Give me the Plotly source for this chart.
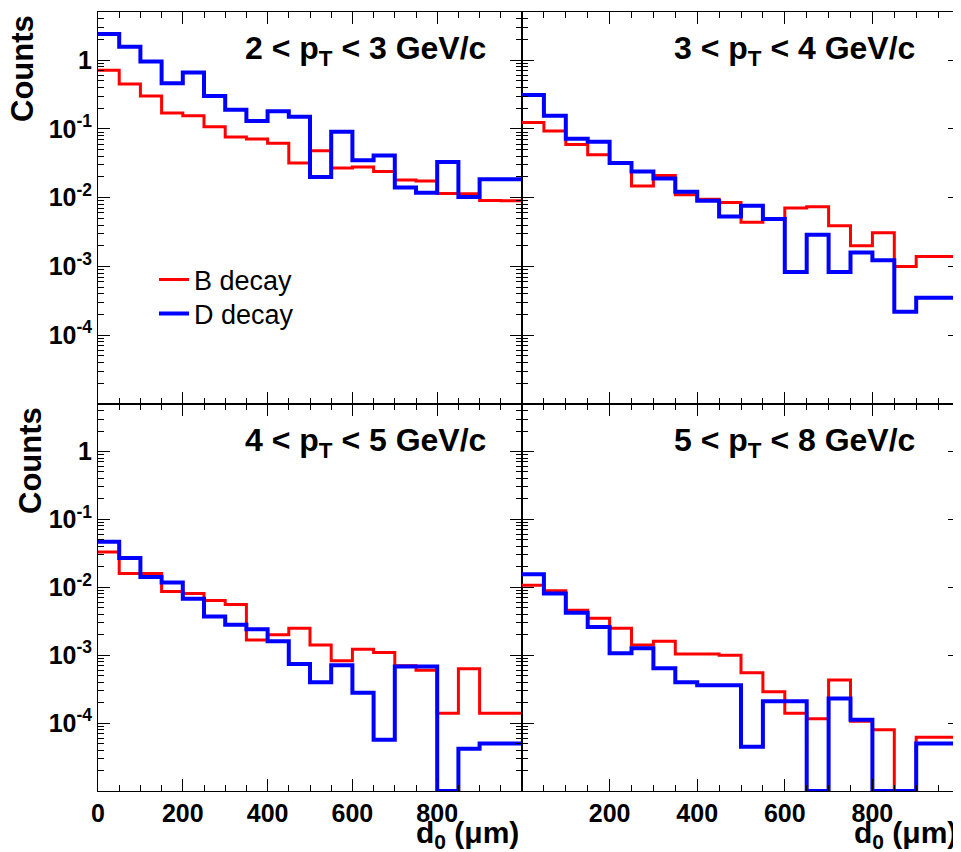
import plotly.graph_objects as go
import math

# bin edges (d0 in micrometres), 20 bins of 50 um
bin_edges = [0, 50, 100, 150, 200, 250, 300, 350, 400, 450, 500,
             550, 600, 650, 700, 750, 800, 850, 900, 950, 1000]

panel_labels = ["2 < p<sub>T</sub> < 3 GeV/c", "3 < p<sub>T</sub> < 4 GeV/c",
                "4 < p<sub>T</sub> < 5 GeV/c", "5 < p<sub>T</sub> < 8 GeV/c"]

# B decay (red) per panel
b_pt23 = [0.71, 0.45, 0.30, 0.17, 0.155, 0.107, 0.076, 0.071, 0.062, 0.032,
          0.048, 0.027, 0.028, 0.024, 0.018, 0.0175, 0.0115, 0.0114, 0.0091, 0.0090]
b_pt34 = [0.124, 0.093, 0.059, 0.042, 0.032, 0.0148, 0.021, 0.011, 0.0095, 0.0085,
          0.0044, 0.0048, 0.0071, 0.0074, 0.0039, 0.0020, 0.0031, 0.0010, 0.0014, 0.0014]
b_pt45 = [0.033, 0.016, 0.0159, 0.0087, 0.0081, 0.0064, 0.0056, 0.00167, 0.0020, 0.0025,
          0.00141, 0.00083, 0.00122, 0.0011, 0.00070, 0.00060, 0.00014, 0.00063, 0.00014, 0.00014]
b_pt58 = [0.0107, 0.0089, 0.0046, 0.0035, 0.0025, 0.00141, 0.0016, 0.00104, 0.00104, 0.0010,
          0.00055, 0.00029, 0.00014, 0.000116, 0.00043, 0.000106, 0.00008, 0.0, 0.000062, 0.000062]

# D decay (blue) per panel
d_pt23 = [2.4, 1.56, 0.95, 0.46, 0.66, 0.30, 0.19, 0.13, 0.18, 0.15,
          0.020, 0.091, 0.035, 0.041, 0.014, 0.0118, 0.033, 0.0102, 0.0185, 0.0185]
d_pt34 = [0.31, 0.155, 0.072, 0.065, 0.032, 0.024, 0.019, 0.0122, 0.0090, 0.0053,
          0.0076, 0.0049, 0.00083, 0.0029, 0.00083, 0.0016, 0.00123, 0.00022, 0.00035, 0.00035]
d_pt45 = [0.047, 0.027, 0.0142, 0.0118, 0.0068, 0.0037, 0.0028, 0.0024, 0.0016, 0.00074,
          0.00040, 0.00071, 0.00028, 0.000057, 0.00068, 0.00068, 0.0, 0.000042, 0.000050, 0.000050]
d_pt58 = [0.0155, 0.0081, 0.0042, 0.0026, 0.00107, 0.00126, 0.00064, 0.00040, 0.00036, 0.00036,
          0.000045, 0.00021, 0.00021, 0.0, 0.00023, 0.000112, 0.0, 0.0, 0.00005, 0.00005]

b_series = [b_pt23, b_pt34, b_pt45, b_pt58]
d_series = [d_pt23, d_pt34, d_pt45, d_pt58]

y_min, y_max = 1e-5, 5.0
y_major = [1e-4, 1e-3, 1e-2, 1e-1, 1]
y_major_text = ["10<sup>-4</sup>", "10<sup>-3</sup>", "10<sup>-2</sup>", "10<sup>-1</sup>", "1"]
x_major_left = [0, 200, 400, 600, 800]
x_major_right = [200, 400, 600, 800]

WIN_W, WIN_H = 961, 852
OFF = 8  # default page body margin
W, H = WIN_W - OFF, WIN_H - OFF
FONT = "Liberation Sans, Arial, sans-serif"

def fx(X):
    return (X - OFF) / W

def fy(Y):
    return 1 - (Y - OFF) / H

# panel geometry in window pixels (left, right, top, bottom)
px = [(98, 522), (522, 960)]
py = [(12, 404), (404, 791)]

fig = go.Figure()

def step(vals):
    return [max(v, y_min) for v in vals] + [max(vals[-1], y_min)]

y_minor = []
for e in range(-5, 1):
    for m in range(2, 10):
        v = m * 10 ** e
        if v < y_max:
            y_minor.append(v)
x_minor = list(range(0, 1001, 50))

for i in range(4):
    r, c = divmod(i, 2)
    suffix = "" if i == 0 else str(i + 1)
    xa, ya = "x" + suffix, "y" + suffix
    fig.add_trace(go.Scatter(x=bin_edges, y=step(b_series[i]), mode="lines", line_shape="hv",
                             line=dict(color="rgb(255,0,0)", width=3), name="B decay",
                             showlegend=(i == 0), legend="legend",
                             xaxis=xa, yaxis=ya, cliponaxis=True))
    fig.add_trace(go.Scatter(x=bin_edges, y=step(d_series[i]), mode="lines", line_shape="hv",
                             line=dict(color="rgb(0,0,255)", width=4), name="D decay",
                             showlegend=(i == 0), legend="legend2",
                             xaxis=xa, yaxis=ya, cliponaxis=True))
    xl, xr = px[c]
    yt, yb = py[r]
    xdom = [fx(xl), fx(xr)]
    ydom = [fy(yb), fy(yt)]
    xaxis = dict(domain=xdom, range=[0, 1000], anchor=ya, showline=True, mirror="ticks",
                 linecolor="black", linewidth=1, ticks="inside", ticklen=12, tickcolor="black",
                 tickmode="array", tickvals=(x_major_left if c == 0 else x_major_right),
                 showticklabels=(r == 1), showgrid=False, zeroline=False, automargin=False,
                 tickfont=dict(family=FONT, size=25, color="black", weight="bold"),
                 minor=dict(ticks="inside", ticklen=6, tickcolor="black", tickmode="array",
                            tickvals=x_minor, showgrid=False))
    yaxis = dict(domain=ydom, type="log", range=[math.log10(y_min), math.log10(y_max)],
                 anchor=xa, showline=True, mirror="ticks", linecolor="black", linewidth=1,
                 ticks="inside", ticklen=12, tickcolor="black", tickmode="array",
                 tickvals=y_major, ticktext=y_major_text, showticklabels=(c == 0),
                 showgrid=False, zeroline=False, automargin=False,
                 tickfont=dict(family=FONT, size=25, color="black", weight="bold"),
                 minor=dict(ticks="inside", ticklen=6, tickcolor="black", tickmode="array",
                            tickvals=y_minor, showgrid=False))
    fig.layout["xaxis" + suffix] = xaxis
    fig.layout["yaxis" + suffix] = yaxis
    # panel label
    fig.add_annotation(text=panel_labels[i], xref="paper", yref="paper",
                       x=fx(xr - (34 if c == 0 else 43)), y=fy(yt + 39),
                       xanchor="right", yanchor="middle", showarrow=False,
                       font=dict(family=FONT, size=32, color="black", weight="bold"))
    if c == 0:
        fig.add_annotation(text="Counts", textangle=-90, xref="paper", yref="paper",
                           x=fx(3 if r == 0 else 11), y=fy(yt + 1), xanchor="left", yanchor="top",
                           showarrow=False,
                           font=dict(family=FONT, size=31, color="black", weight="bold"))
    if r == 1:
        fig.add_annotation(text="d<sub>0</sub> (\u03bcm)", xref="paper", yref="paper",
                           x=fx(xr - 1), y=fy(834), xanchor="right", yanchor="middle",
                           showarrow=False,
                           font=dict(family=FONT, size=30, color="black", weight="bold"))

fig.update_layout(
    width=W, height=H, margin=dict(l=0, r=0, t=0, b=0, autoexpand=False),
    paper_bgcolor="white", plot_bgcolor="white",
    showlegend=True,
    legend=dict(x=fx(154), y=fy(280), xanchor="left", yanchor="middle",
                bgcolor="rgba(0,0,0,0)", borderwidth=0,
                font=dict(family=FONT, size=27, color="black")),
    legend2=dict(x=fx(154), y=fy(314), xanchor="left", yanchor="middle",
                 bgcolor="rgba(0,0,0,0)", borderwidth=0,
                 font=dict(family=FONT, size=27, color="black")),
)

fig.write_html("out.html")
